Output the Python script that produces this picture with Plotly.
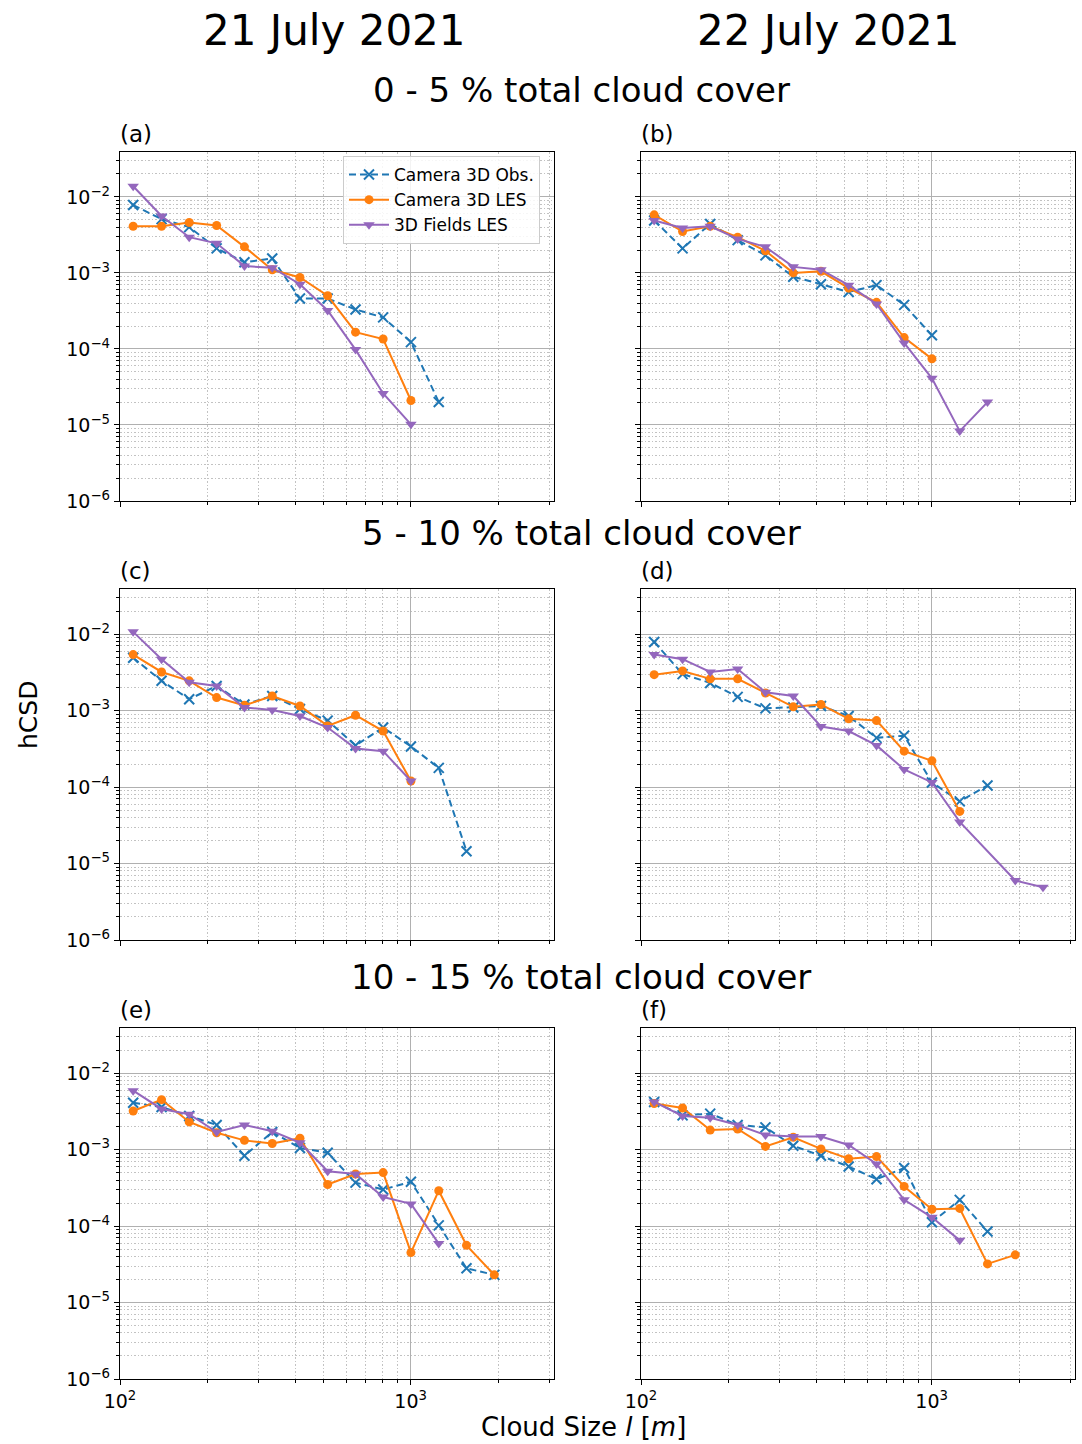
import plotly.graph_objects as go

# ---------------- data ----------------
cloud_size = [111, 139, 173, 215, 268, 334, 416, 518, 646, 804, 1002, 1249, 1556, 1939, 2415]

series_names = ["Camera 3D Obs.", "Camera 3D LES", "3D Fields LES"]

# panel (a): 21 July, 0-5 %
a_obs = [7.8e-3, 5.1e-3, 4.0e-3, 2.1e-3, 1.38e-3, 1.55e-3, 4.6e-4, 4.6e-4, 3.3e-4, 2.6e-4, 1.23e-4, 2.0e-5]
a_les = [4.1e-3, 4.1e-3, 4.6e-3, 4.2e-3, 2.2e-3, 1.10e-3, 8.7e-4, 5.0e-4, 1.66e-4, 1.35e-4, 2.1e-5]
a_fld = [1.38e-2, 5.6e-3, 2.95e-3, 2.45e-3, 1.23e-3, 1.17e-3, 7.1e-4, 3.2e-4, 9.8e-5, 2.6e-5, 1.02e-5]
# panel (b): 22 July, 0-5 %
b_obs = [4.9e-3, 2.1e-3, 4.4e-3, 2.7e-3, 1.7e-3, 8.9e-4, 7.1e-4, 5.6e-4, 6.9e-4, 3.8e-4, 1.51e-4]
b_les = [5.8e-3, 3.5e-3, 4.1e-3, 2.95e-3, 1.95e-3, 1.0e-3, 1.05e-3, 6.3e-4, 4.1e-4, 1.41e-4, 7.4e-5]
b_fld = [4.9e-3, 3.9e-3, 4.1e-3, 2.8e-3, 2.2e-3, 1.2e-3, 1.1e-3, 6.9e-4, 3.9e-4, 1.2e-4, 4.1e-5, 8.3e-6, 2.0e-5]
# panel (c): 21 July, 5-10 %
c_obs = [4.9e-3, 2.45e-3, 1.41e-3, 2.1e-3, 1.2e-3, 1.55e-3, 1.05e-3, 7.4e-4, 3.5e-4, 6.0e-4, 3.4e-4, 1.78e-4, 1.45e-5]
c_les = [5.4e-3, 3.2e-3, 2.45e-3, 1.48e-3, 1.17e-3, 1.55e-3, 1.15e-3, 6.3e-4, 8.7e-4, 5.4e-4, 1.2e-4]
c_fld = [1.07e-2, 4.7e-3, 2.35e-3, 2.1e-3, 1.1e-3, 1.02e-3, 8.5e-4, 6.0e-4, 3.2e-4, 2.95e-4, 1.2e-4]
# panel (d): 22 July, 5-10 %
d_obs = [7.9e-3, 3.0e-3, 2.3e-3, 1.51e-3, 1.07e-3, 1.1e-3, 1.15e-3, 8.5e-4, 4.4e-4, 4.7e-4, 1.15e-4, 6.5e-5, 1.05e-4]
d_les = [2.95e-3, 3.3e-3, 2.6e-3, 2.6e-3, 1.7e-3, 1.12e-3, 1.2e-3, 7.8e-4, 7.4e-4, 2.95e-4, 2.2e-4, 4.8e-5]
d_fld = [5.4e-3, 4.7e-3, 3.2e-3, 3.5e-3, 1.74e-3, 1.55e-3, 6.2e-4, 5.4e-4, 3.5e-4, 1.7e-4, 1.15e-4, 3.5e-5, None, 6.0e-6, 4.9e-6]
# panel (e): 21 July, 10-15 %
e_obs = [4.1e-3, 3.6e-3, 2.75e-3, 2.1e-3, 8.3e-4, 1.7e-3, 1.05e-3, 9.1e-4, 3.7e-4, 3.0e-4, 3.8e-4, 1.02e-4, 2.8e-5, 2.3e-5]
e_les = [3.2e-3, 4.5e-3, 2.3e-3, 1.66e-3, 1.32e-3, 1.2e-3, 1.41e-3, 3.5e-4, 4.8e-4, 5.0e-4, 4.5e-5, 2.9e-4, 5.6e-5, 2.3e-5]
e_fld = [5.9e-3, 3.4e-3, 2.9e-3, 1.7e-3, 2.1e-3, 1.74e-3, 1.23e-3, 5.2e-4, 4.8e-4, 2.4e-4, 1.95e-4, 5.9e-5]
# panel (f): 22 July, 10-15 %
f_obs = [4.2e-3, 2.8e-3, 2.95e-3, 2.1e-3, 1.95e-3, 1.12e-3, 8.3e-4, 6.0e-4, 4.1e-4, 5.75e-4, 1.12e-4, 2.2e-4, 8.5e-5]
f_les = [4.0e-3, 3.5e-3, 1.8e-3, 1.86e-3, 1.1e-3, 1.45e-3, 1.02e-3, 7.6e-4, 8.1e-4, 3.3e-4, 1.66e-4, 1.7e-4, 3.2e-5, 4.2e-5]
f_fld = [4.2e-3, 2.75e-3, 2.6e-3, 2.1e-3, 1.55e-3, 1.48e-3, 1.48e-3, 1.15e-3, 6.5e-4, 2.2e-4, 1.3e-4, 6.5e-5]

panels = [
    ("(a)", a_obs, a_les, a_fld),
    ("(b)", b_obs, b_les, b_fld),
    ("(c)", c_obs, c_les, c_fld),
    ("(d)", d_obs, d_les, d_fld),
    ("(e)", e_obs, e_les, e_fld),
    ("(f)", f_obs, f_les, f_fld),
]

column_titles = ["21 July 2021", "22 July 2021"]
row_titles = ["0 - 5 % total cloud cover", "5 - 10 % total cloud cover", "10 - 15 % total cloud cover"]

x_major = [100, 1000]
x_major_text = ["10<sup>2</sup>", "10<sup>3</sup>"]
x_minor = [200, 300, 400, 500, 600, 700, 800, 900, 2000, 3000]
y_major = [1e-6, 1e-5, 1e-4, 1e-3, 1e-2]
y_major_text = ["10<sup>\u22126</sup>", "10<sup>\u22125</sup>", "10<sup>\u22124</sup>",
                "10<sup>\u22123</sup>", "10<sup>\u22122</sup>"]
y_minor = [m * 10.0 ** e for e in range(-6, -1) for m in range(2, 10)] + [2e-2, 3e-2]

# ---------------- styling ----------------
W, H = 1082, 1444
FONT = "DejaVu Sans"
colors = ["#1f77b4", "#ff7f0e", "#9467bd"]

col_px = [(120, 554), (641, 1075)]
row_px = [(152, 501), (589, 940), (1028, 1379)]

fig = go.Figure()

for i, (lab, obs, les, fld) in enumerate(panels):
    r, c = divmod(i, 2)
    n = i + 1
    xa = "x" if n == 1 else f"x{n}"
    ya = "y" if n == 1 else f"y{n}"
    show = (i == 0)
    fig.add_trace(go.Scatter(
        x=cloud_size[:len(obs)], y=obs, mode="lines+markers", name=series_names[0],
        line=dict(color=colors[0], width=2, dash="7px,4px"),
        marker=dict(symbol="x-thin", size=10, color=colors[0], line=dict(color=colors[0], width=2)),
        xaxis=xa, yaxis=ya, showlegend=show, legendrank=1))
    fig.add_trace(go.Scatter(
        x=cloud_size[:len(les)], y=les, mode="lines+markers", name=series_names[1],
        line=dict(color=colors[1], width=2),
        marker=dict(symbol="circle", size=9, color=colors[1]),
        xaxis=xa, yaxis=ya, showlegend=show, legendrank=2))
    fig.add_trace(go.Scatter(
        x=cloud_size[:len(fld)], y=fld, mode="lines+markers", name=series_names[2],
        line=dict(color=colors[2], width=2), connectgaps=True,
        marker=dict(symbol="triangle-down", size=10, color=colors[2]),
        xaxis=xa, yaxis=ya, showlegend=show, legendrank=3))

    x0, x1 = col_px[c]
    y0, y1 = row_px[r]
    common = dict(
        type="log", automargin=False, showline=True, linecolor="black", linewidth=1.3, mirror=True,
        ticks="outside", ticklen=5, tickwidth=1.2, tickcolor="black",
        showgrid=True, gridcolor="#b0b0b0", gridwidth=1.2, zeroline=False,
        tickfont=dict(family=FONT, size=19, color="black"),
    )
    minor_common = dict(tickmode="array", ticks="outside", ticklen=3, tickwidth=1,
                        tickcolor="black", showgrid=True, gridcolor="#c2c2c2",
                        griddash="1.5px,2px", gridwidth=1)
    xdict = dict(common, domain=[x0 / W, x1 / W], range=[2, 3.493],
                 tickmode="array", tickvals=x_major, ticktext=x_major_text,
                 showticklabels=(r == 2), anchor=ya,
                 minor=dict(minor_common, tickvals=x_minor))
    ydict = dict(common, domain=[1 - y1 / H, 1 - y0 / H], range=[-6, -1.41],
                 tickmode="array", tickvals=y_major, ticktext=y_major_text,
                 showticklabels=(c == 0), anchor=xa,
                 minor=dict(minor_common, tickvals=y_minor))
    fig.layout["xaxis" if n == 1 else f"xaxis{n}"] = xdict
    fig.layout["yaxis" if n == 1 else f"yaxis{n}"] = ydict

    fig.add_annotation(text=lab, x=(x0 - 2) / W, y=1 - (y0 - 3) / H, xref="paper", yref="paper",
                       xanchor="left", yanchor="bottom", showarrow=False,
                       font=dict(family=FONT, size=23, color="black"))

# column titles
for txt, cx in zip(column_titles, [334, 828]):
    fig.add_annotation(text=txt, x=cx / W, y=1 - 30 / H, xref="paper", yref="paper",
                       xanchor="center", yanchor="middle", showarrow=False,
                       font=dict(family=FONT, size=42, color="black"))
# row titles
for txt, cy in zip(row_titles, [90, 533, 977]):
    fig.add_annotation(text=txt, x=581 / W, y=1 - cy / H, xref="paper", yref="paper",
                       xanchor="center", yanchor="middle", showarrow=False,
                       font=dict(family=FONT, size=34, color="black"))
# axis labels
fig.add_annotation(text="hCSD", x=28 / W, y=1 - 715 / H, xref="paper", yref="paper",
                   xanchor="center", yanchor="middle", showarrow=False, textangle=-90,
                   font=dict(family=FONT, size=25, color="black"))
fig.add_annotation(text="Cloud Size <i>l</i> [<i>m</i>]", x=583 / W, y=1 - 1427 / H,
                   xref="paper", yref="paper", xanchor="center", yanchor="middle",
                   showarrow=False, font=dict(family=FONT, size=26, color="black"))

fig.update_layout(
    template="none",
    width=W, height=H, margin=dict(l=0, r=0, t=0, b=0, autoexpand=False),
    paper_bgcolor="white", plot_bgcolor="white",
    font=dict(family=FONT, color="black"),
    legend=dict(x=343 / W, y=1 - 156 / H, xanchor="left", yanchor="top",
                bgcolor="rgba(255,255,255,0.85)", bordercolor="#cccccc", borderwidth=1,
                font=dict(family=FONT, size=17, color="black"), tracegroupgap=0,
                itemwidth=40),
)

fig.write_html("out.html", config={"displayModeBar": False},
               post_script="document.body.style.margin='0px';document.body.style.overflow='hidden';")
